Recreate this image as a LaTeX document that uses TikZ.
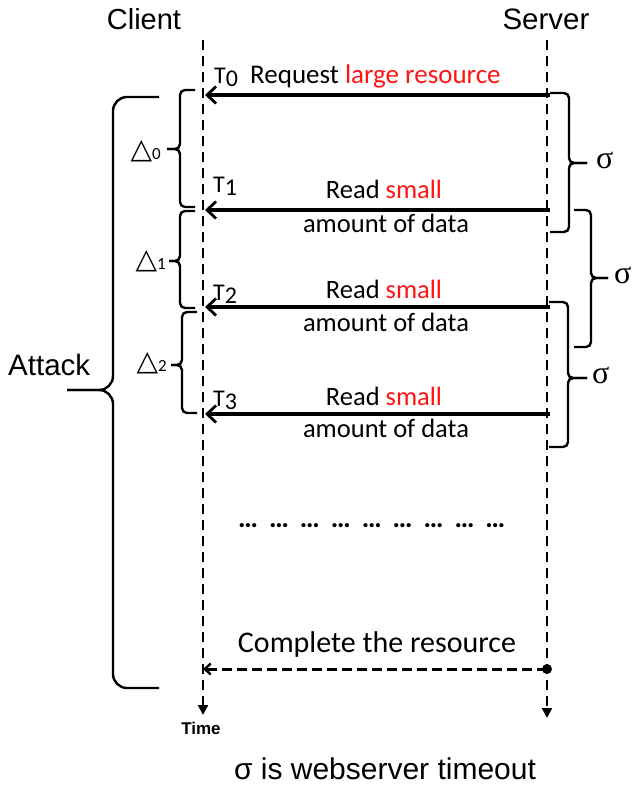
\documentclass[tikz,border=0pt]{standalone}
\usepackage{fontspec}
\setmainfont{Carlito}
\newfontfamily\arialf{Liberation Sans}
\newfontfamily\symf{DejaVu Sans}
\newfontfamily\sigf{Liberation Serif}
\usetikzlibrary{arrows.meta,calc}
\definecolor{rd}{RGB}{255,20,20}
\newcommand\mybrace[7]{% xv, xend, xtip, top, mid, bot, radius
  \draw[bracestyle,rounded corners=#7] (#2,#4) -- (#1,#4) -- (#1,#5) -- (#3,#5);
  \draw[bracestyle,rounded corners=#7] (#2,#6) -- (#1,#6) -- (#1,#5) -- (#3,#5);}
\begin{document}
\begin{tikzpicture}[x=1pt,y=-1pt,
  lifeline/.style={line width=2.3pt,dash pattern=on 10pt off 6pt,-{Triangle[length=10pt,width=10pt]}},
  msg/.style={line width=3.2pt,-{Straight Barb[length=9pt,width=17pt,line width=2.8pt]}},
  bracestyle/.style={line width=2.4pt},
  lbl/.style={inner sep=0pt,anchor=base,font=\fontsize{26.5}{28}\selectfont},
  tlbl/.style={inner sep=0pt,anchor=base west,font=\fontsize{24}{26}\selectfont},
  dlbl/.style={inner sep=0pt,anchor=base east},
  sig/.style={inner sep=0pt,font=\sigf\fontsize{32}{34}\selectfont}]
\useasboundingbox (0,0) rectangle (635,787);
% headers
\node[inner sep=0pt,anchor=base,font=\arialf\fontsize{29}{30}\selectfont] (client) at (144,29) {Client};
\node[inner sep=0pt,anchor=base,font=\arialf\fontsize{29.5}{30}\selectfont] (server) at (546,29) {Server};
% lifelines
\coordinate (ctop) at (203,40);
\coordinate (cbot) at (203,715);
\coordinate (stop) at (547,40);
\coordinate (sbot) at (547,718);
\draw[lifeline] (ctop) -- (cbot);
\draw[lifeline] (stop) -- (sbot);
\node[inner sep=0pt,anchor=base,font=\arialf\bfseries\fontsize{17}{18}\selectfont] (time) at (201,734) {Time};
% messages
\foreach \n/\y in {0/95,1/210,2/307,3/414}{
  \coordinate (s\n) at (550,\y);
  \coordinate (c\n) at (205,\y);
  \draw[msg] (s\n) -- (c\n);
}
\node[tlbl] (t0) at (214,83) {T\raisebox{-3pt}{0}};
\node[tlbl] (t1) at (213,192) {T\raisebox{-3pt}{1}};
\node[tlbl] (t2) at (213,300) {T\raisebox{-3pt}{2}};
\node[tlbl] (t3) at (213,406) {T\raisebox{-3pt}{3}};
\node[lbl,anchor=base west,font=\fontsize{27}{28}\selectfont] (req) at (250,83) {Request \textcolor{rd}{large resource}};
\node[lbl] (r1) at (384,198) {Read \textcolor{rd}{small}};
\node[lbl] (a1) at (386,232) {amount of data};
\node[lbl] (r2) at (384,298) {Read \textcolor{rd}{small}};
\node[lbl] (a2) at (386,331) {amount of data};
\node[lbl] (r3) at (384,405) {Read \textcolor{rd}{small}};
\node[lbl] (a3) at (386,437) {amount of data};
% dots
\node[inner sep=0pt,anchor=base west,font=\bfseries\fontsize{28}{30}\selectfont] (dots) at (238,527)
  {\foreach \i in {1,...,9}{…\hspace{11pt}}};
% complete
\node[lbl,font=\fontsize{30}{32}\selectfont] (comp) at (377,652) {Complete the resource};
\coordinate (cs) at (547,669);
\coordinate (cc) at (203,669);
\fill (cs) circle (5pt);
\draw[line width=3pt,dash pattern=on 10pt off 5pt,-{Straight Barb[length=6pt,width=11pt,line width=2.4pt]}] (cs) -- (cc);
% footnote
\node[inner sep=0pt,anchor=base,font=\arialf\fontsize{30}{32}\selectfont] (foot) at (385,779) {σ is webserver timeout};
% left braces
\mybrace{180}{195}{167}{90}{149}{207}{5}
\mybrace{180}{195}{169}{211}{261}{308}{5}
\mybrace{182}{197}{171}{312}{365}{413}{5}
\node[dlbl] (d0) at (161,158) {{\symf\fontsize{28}{28}\selectfont △}\raisebox{-1pt}{\fontsize{17}{18}\selectfont 0}};
\node[dlbl] (d1) at (166,268) {{\symf\fontsize{28}{28}\selectfont △}\raisebox{-1pt}{\fontsize{17}{18}\selectfont 1}};
\node[dlbl] (d2) at (167,370) {{\symf\fontsize{28}{28}\selectfont △}\raisebox{-1pt}{\fontsize{17}{18}\selectfont 2}};
% attack brace
\mybrace{113}{159}{67}{97}{390}{688}{14}
\node[inner sep=0pt,anchor=base west,font=\arialf\fontsize{29.5}{30}\selectfont] (attack) at (8,375) {Attack};
% right braces
\mybrace{569}{550}{587}{93}{163}{232}{5}
\mybrace{591}{574}{608}{210}{278}{347}{5}
\mybrace{568}{549}{587}{302}{378}{447}{5}
\node[sig,anchor=west] (sg1) at (596,160) {σ};
\node[sig,anchor=west] (sg2) at (614,275) {σ};
\node[sig,anchor=west] (sg3) at (592,375) {σ};
\end{tikzpicture}
\end{document}
